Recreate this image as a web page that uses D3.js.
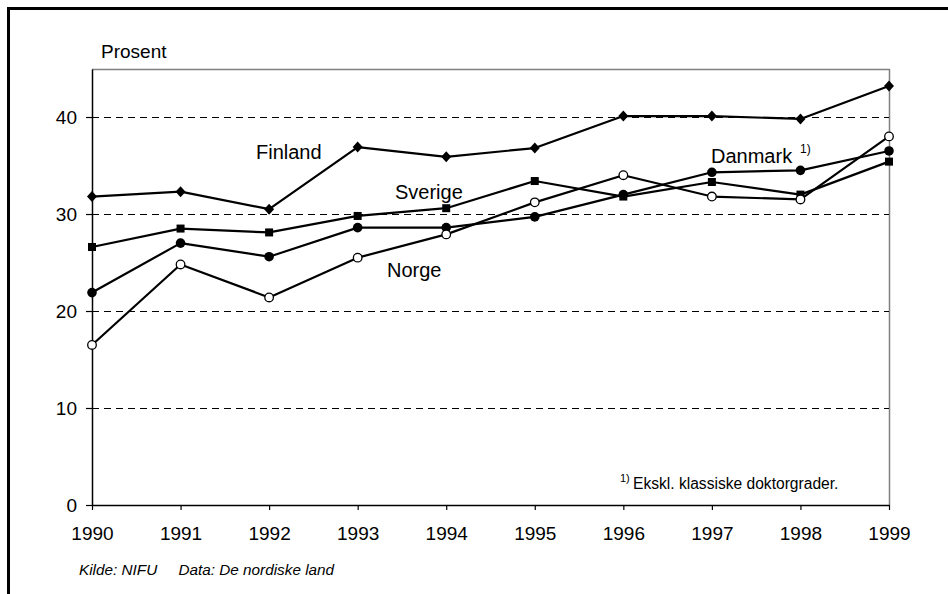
<!DOCTYPE html>
<html>
<head>
<meta charset="utf-8">
<script src="https://cdn.jsdelivr.net/npm/d3@7/dist/d3.min.js"></script>
<style>
  html, body { margin: 0; padding: 0; background: #fff; }
  svg { display: block; font-family: Arial, "Liberation Sans", sans-serif; }
</style>
</head>
<body>
<svg id="chart" width="948" height="594"></svg>
<script>
// Andel kvinner blant doktorgradsavleggelser i Norden, 1990–1999
const years = [1990, 1991, 1992, 1993, 1994, 1995, 1996, 1997, 1998, 1999];
const finland = [31.8, 32.3, 30.5, 36.9, 35.9, 36.8, 40.1, 40.1, 39.8, 43.2];
const sverige = [26.6, 28.5, 28.1, 29.8, 30.6, 33.4, 31.8, 33.3, 32.0, 35.4];
const danmark = [21.9, 27.0, 25.6, 28.6, 28.6, 29.7, 32.0, 34.3, 34.5, 36.5];
const norge   = [16.5, 24.8, 21.4, 25.5, 27.9, 31.2, 34.0, 31.8, 31.5, 38.0];
const yTicks = [0, 10, 20, 30, 40];

const svg = d3.select("#chart");
const plotL = 92, plotR = 889, plotT = 69, plotB = 505;

const x = d3.scaleLinear().domain([1990, 1999]).range([plotL, plotR]);
const y = d3.scaleLinear().domain([0, 44.95]).range([plotB, plotT]);

// outer frame (left and top edges)
svg.append("path")
  .attr("d", `M8.5,600 V8.5 H960`)
  .attr("fill", "none").attr("stroke", "#000").attr("stroke-width", 3);

// plot area outline (top/right in grey)
svg.append("path")
  .attr("d", `M${plotL},${plotT + 0.5} H${plotR + 0.5} V${plotB}`)
  .attr("fill", "none").attr("stroke", "#808080").attr("stroke-width", 1.5);

// dashed gridlines
svg.append("g").selectAll("line")
  .data(yTicks.filter(d => d > 0))
  .join("line")
  .attr("x1", plotL).attr("x2", plotR)
  .attr("y1", d => Math.round(y(d)) + 0.5).attr("y2", d => Math.round(y(d)) + 0.5)
  .attr("stroke", "#000").attr("stroke-width", 1)
  .attr("stroke-dasharray", "7,5");

// y axis
const yAxis = d3.axisLeft(y).tickValues(yTicks).tickSize(6).tickPadding(9).tickSizeOuter(0);
const gy = svg.append("g").attr("transform", `translate(${plotL},0)`).call(yAxis);
gy.select(".domain").attr("stroke-width", 1.5);
gy.selectAll(".tick line").attr("stroke-width", 1.2);
gy.selectAll("text").attr("font-size", 19).attr("font-family", "Arial, 'Liberation Sans', sans-serif").attr("fill", "#000");

// x axis
const xAxis = d3.axisBottom(x).tickValues(years).tickFormat(d3.format("d")).tickSize(5).tickPadding(17).tickSizeOuter(0);
const gx = svg.append("g").attr("transform", `translate(0,${plotB})`).call(xAxis);
gx.select(".domain").attr("stroke-width", 1.5);
gx.selectAll(".tick line").attr("stroke-width", 1.2);
gx.selectAll("text").attr("font-size", 19).attr("font-family", "Arial, 'Liberation Sans', sans-serif").attr("fill", "#000");

// y axis title
svg.append("text").attr("x", 101).attr("y", 58)
  .attr("font-size", 19).text("Prosent");

const line = d3.line().x((d, i) => x(years[i])).y(d => y(d));

const series = [
  { name: "Finland", values: finland, marker: "diamond" },
  { name: "Sverige", values: sverige, marker: "square" },
  { name: "Danmark", values: danmark, marker: "dot" },
  { name: "Norge", values: norge, marker: "ring" }
];

series.forEach(s => {
  svg.append("path").datum(s.values)
    .attr("d", line)
    .attr("fill", "none").attr("stroke", "#000").attr("stroke-width", 2.2)
    .attr("stroke-linejoin", "round");
});

series.forEach(s => {
  const g = svg.append("g");
  const pts = s.values.map((v, i) => [x(years[i]), y(v)]);
  if (s.marker === "diamond") {
    g.selectAll("path").data(pts).join("path")
      .attr("d", "M0,-5.5 L5,0 L0,5.5 L-5,0 Z")
      .attr("transform", d => `translate(${d[0]},${d[1]})`)
      .attr("fill", "#000");
  } else if (s.marker === "square") {
    g.selectAll("rect").data(pts).join("rect")
      .attr("x", d => d[0] - 4).attr("y", d => d[1] - 4)
      .attr("width", 8).attr("height", 8).attr("fill", "#000");
  } else if (s.marker === "dot") {
    g.selectAll("circle").data(pts).join("circle")
      .attr("cx", d => d[0]).attr("cy", d => d[1]).attr("r", 4.8).attr("fill", "#000");
  } else {
    g.selectAll("circle").data(pts).join("circle")
      .attr("cx", d => d[0]).attr("cy", d => d[1]).attr("r", 4.3)
      .attr("fill", "#fff").attr("stroke", "#000").attr("stroke-width", 1.3);
  }
});

// series labels
const labels = [
  { text: "Finland", x: 256, y: 159 },
  { text: "Sverige", x: 395, y: 199 },
  { text: "Norge", x: 387, y: 277 },
  { text: "Danmark", x: 711, y: 163 }
];
svg.append("g").selectAll("text").data(labels).join("text")
  .attr("x", d => d.x).attr("y", d => d.y)
  .attr("font-size", 20).text(d => d.text);
svg.append("text").attr("x", 800).attr("y", 153).attr("font-size", 12).text("1)");

// footnote
svg.append("text").attr("x", 620).attr("y", 482).attr("font-size", 11).text("1)");
svg.append("text").attr("x", 633).attr("y", 489).attr("font-size", 15.6).text("Ekskl. klassiske doktorgrader.");

// source line
svg.append("text").attr("x", 79).attr("y", 575).attr("font-size", 15.3)
  .attr("font-style", "italic").attr("xml:space", "preserve")
  .text("Kilde: NIFU     Data: De nordiske land");
</script>
</body>
</html>
